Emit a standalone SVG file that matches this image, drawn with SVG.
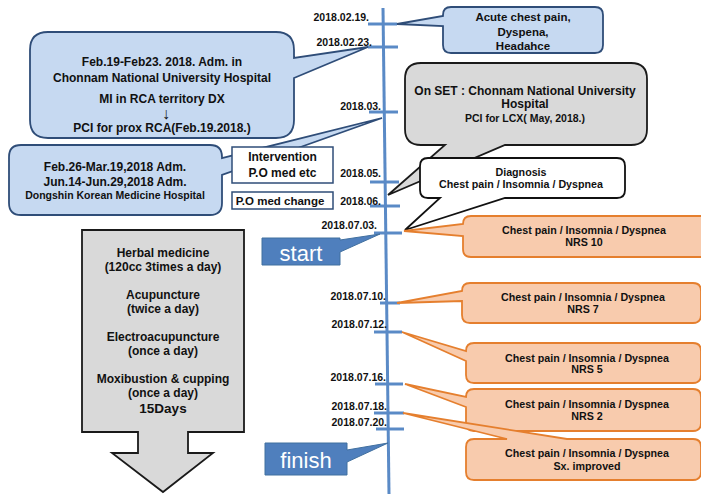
<svg xmlns="http://www.w3.org/2000/svg" width="701" height="494" viewBox="0 0 701 494">
<style>
text{font-family:"Liberation Sans",Arial,sans-serif;font-weight:bold;fill:#111;text-anchor:middle}
.d{font-size:10.5px;text-anchor:end}
.blue{fill:#c6d9f1;stroke:#2f4d78;stroke-width:1.8}
.grey{fill:#d9d9d9;stroke:#1a1a1a;stroke-width:1.8}
.white{fill:#fff;stroke:#111;stroke-width:1.8}
.orange{fill:#f8cbad;stroke:#e57f2e;stroke-width:1.8}
.wbox{fill:#fff;stroke:#2f4d78;stroke-width:1.5}
.tag{fill:#4f7fbd;stroke:#41709f;stroke-width:1}
.tl{stroke:#5a8ac6;stroke-width:3;fill:none}
.tagt{fill:#fff;font-weight:normal;font-size:22px}
.s12{font-size:12px}
.s11{font-size:10.7px}
</style>
<g id="timeline" class="tl">
<line x1="383" y1="8" x2="389" y2="494"/>
<line x1="368" y1="24" x2="397" y2="24"/>
<line x1="368" y1="47" x2="398" y2="47"/>
<line x1="369" y1="112" x2="398" y2="112"/>
<line x1="370" y1="182" x2="399" y2="182"/>
<line x1="370" y1="206" x2="400" y2="206"/>
<line x1="374" y1="233" x2="402" y2="233"/>
<line x1="380" y1="303" x2="400" y2="303"/>
<line x1="374" y1="332" x2="402" y2="332"/>
<line x1="375" y1="384" x2="403" y2="384"/>
<line x1="374" y1="413" x2="404" y2="413"/>
<line x1="376" y1="429" x2="404" y2="429"/>
</g>
<g id="dates">
<text class="d" x="369" y="21">2018.02.19.</text>
<text class="d" x="372" y="46">2018.02.23.</text>
<text class="d" x="381" y="110">2018.03.</text>
<text class="d" x="381" y="177">2018.05.</text>
<text class="d" x="381" y="205">2018.06.</text>
<text class="d" x="377" y="229">2018.07.03.</text>
<text class="d" x="386" y="300">2018.07.10.</text>
<text class="d" x="387" y="328">2018.07.12.</text>
<text class="d" x="386" y="381">2018.07.16.</text>
<text class="d" x="387" y="410">2018.07.18.</text>
<text class="d" x="387" y="426">2018.07.20.</text>
</g>
<g id="acute">
<path class="blue" d="M451,7 H595 Q603,7 603,15 V45 Q603,53 595,53 H451 Q443,53 443,45 V26 L397,24 L443,16 V15 Q443,7 451,7 Z"/>
<text x="523" y="21" style="font-size:11.5px">Acute chest pain,</text>
<text x="523" y="36" style="font-size:11.5px">Dyspena,</text>
<text x="523" y="50" style="font-size:11.5px">Headahce</text>
</g>
<g id="chonnam">
<path class="blue" d="M48,32 H276 Q294,32 294,50 V58 L368,47 L294,78 V120 Q294,138 276,138 H48 Q30,138 30,120 V50 Q30,32 48,32 Z"/>
<text class="s12" x="162" y="66">Feb.19-Feb23. 2018. Adm. in</text>
<text class="s12" x="162" y="82">Chonnam National University Hospital</text>
<text class="s12" x="162" y="103">MI in RCA territory DX</text>
<text x="166" y="119" style="font-size:16px;font-weight:normal">↓</text>
<text class="s12" x="162" y="132">PCI for prox RCA(Feb.19.2018.)</text>
</g>
<g id="onset">
<path class="grey" d="M421,63 H631 Q647,63 647,79 V129 Q647,145 631,145 H505 L388,195 L445,145 H421 Q405,145 405,129 V79 Q405,63 421,63 Z"/>
<text class="s12" x="525" y="95">On SET : Chonnam National University</text>
<text class="s12" x="525" y="108">Hospital</text>
<text x="525" y="122" style="font-size:10.5px">PCI for LCX( May, 2018.)</text>
</g>
<g id="diagnosis">
<path class="white" d="M428,158 H617 Q625,158 625,166 V190 Q625,198 617,198 H505 L405,230 L440,198 H428 Q420,198 420,190 V166 Q420,158 428,158 Z"/>
<text class="s11" x="521" y="176">Diagnosis</text>
<text class="s11" x="521" y="188">Chest pain / Insomnia / Dyspnea</text>
</g>
<g id="dongshin">
<path class="blue" d="M21,145 H210 Q222,145 222,157 V158 L382,118 L222,175 V203 Q222,215 210,215 H21 Q9,215 9,203 V157 Q9,145 21,145 Z"/>
<text class="s12" x="115" y="171">Feb.26-Mar.19,2018 Adm.</text>
<text class="s12" x="115" y="186">Jun.14-Jun.29,2018 Adm.</text>
<text x="115" y="199" style="font-size:10.5px">Dongshin Korean Medicine Hospital</text>
</g>
<g id="intervention">
<rect class="wbox" x="232" y="147" width="101" height="36"/>
<text class="s12" x="282.5" y="161">Intervention</text>
<text class="s12" x="282.5" y="177">P.O med etc</text>
</g>
<g id="pomed">
<rect class="wbox" x="232" y="192" width="101" height="17"/>
<text x="280" y="205" style="font-size:11.5px">P.O med change</text>
</g>
<g id="nrs10">
<path class="orange" d="M471,216 H710 V257 H471 Q463,257 463,249 V236 L404,231 L463,224 Q463,216 471,216 Z"/>
<text class="s11" x="584" y="234">Chest pain / Insomnia / Dyspnea</text>
<text class="s11" x="584" y="246">NRS 10</text>
</g>
<g id="nrs7">
<path class="orange" d="M470,283 H693 Q701,283 701,291 V315 Q701,323 693,323 H470 Q462,323 462,315 V301 L397,303 L462,291 Q462,283 470,283 Z"/>
<text class="s11" x="583" y="301">Chest pain / Insomnia / Dyspnea</text>
<text class="s11" x="583" y="313">NRS 7</text>
</g>
<g id="nrs5">
<path class="orange" d="M474,343 H693 Q701,343 701,351 V375 Q701,383 693,383 H474 Q466,383 466,375 V361 L402,332 L466,351 Q466,343 474,343 Z"/>
<text class="s11" x="587" y="362">Chest pain / Insomnia / Dyspnea</text>
<text class="s11" x="587" y="373">NRS 5</text>
</g>
<g id="nrs2">
<path class="orange" d="M474,389 H693 Q701,389 701,397 V423 Q701,431 693,431 H474 Q466,431 466,423 V407 L405,384 L466,397 Q466,389 474,389 Z"/>
<text class="s11" x="587" y="408">Chest pain / Insomnia / Dyspnea</text>
<text class="s11" x="587" y="420">NRS 2</text>
</g>
<g id="improved">
<path class="orange" d="M474,439 H507 L403,413 L567,439 H693 Q701,439 701,447 V472 Q701,480 693,480 H474 Q466,480 466,472 V447 Q466,439 474,439 Z"/>
<text class="s11" x="587" y="457">Chest pain / Insomnia / Dyspnea</text>
<text class="s11" x="587" y="470">Sx. improved</text>
</g>
<g id="treatment">
<path class="grey" d="M82,230 H244 V432 H188 V453 H213 L163,492 L112,453 H138 V432 H82 Z"/>
<text class="s12" x="163" y="257">Herbal medicine</text>
<text class="s12" x="163" y="271">(120cc 3times a day)</text>
<text class="s12" x="163" y="299">Acupuncture</text>
<text class="s12" x="163" y="313">(twice a day)</text>
<text class="s12" x="163" y="341">Electroacupuncture</text>
<text class="s12" x="163" y="355">(once a day)</text>
<text class="s12" x="163" y="383">Moxibustion &amp; cupping</text>
<text class="s12" x="163" y="397">(once a day)</text>
<text x="163" y="413" style="font-size:13.5px">15Days</text>
</g>
<g id="start">
<path class="tag" d="M262,238 H340 V240 L380,234 L340,252 V265 H262 Z"/>
<text class="tagt" x="301" y="261">start</text>
</g>
<g id="finish">
<path class="tag" d="M265,443 H347 V450 L388,443 L347,462 V475 H265 Z"/>
<text class="tagt" x="306" y="468">finish</text>
</g>
</svg>
